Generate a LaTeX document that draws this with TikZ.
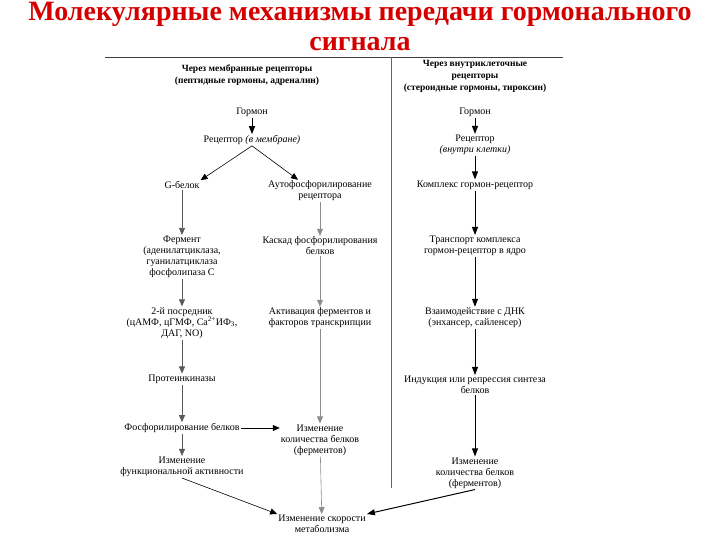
\documentclass[tikz,border=0pt]{standalone}
\usepackage{fontspec}
\setmainfont{Liberation Serif}
\usetikzlibrary{arrows.meta, positioning, calc}

\definecolor{titlered}{RGB}{212,0,0}

\begin{document}
\begin{tikzpicture}[
    x=1pt, y=-1pt,
    txt/.style={align=center, inner sep=1pt, font=\fontsize{10}{11}\selectfont},
    head/.style={align=center, inner sep=1pt, font=\fontsize{9.5}{12}\selectfont\bfseries},
    title/.style={anchor=base, inner sep=0pt, text=titlered, font=\fontsize{28}{30}\selectfont\bfseries},
    arrow/.style={-{Triangle[width=6pt, length=7pt]}, draw=black!65, line width=0.6pt},
    thickarrow/.style={-{Triangle[width=6pt, length=8pt]}, black, line width=1pt},
]
\useasboundingbox (0,0) rectangle (720,540);

% title
\node[title] (title1) at (360,21) {Молекулярные механизмы передачи гормонального};
\node[title] (title2) at (360,51) {сигнала};

% frame
\draw[black!75, line width=0.8pt] (105,57) -- (563,57);
\draw[black!60, line width=0.9pt] (391,57) -- (391,488);

% headers
\node[head] (memhead) at (247,75) {Через мембранные рецепторы\\(пептидные гормоны, адреналин)};
\node[head] (inhead)  at (475,76) {Через внутриклеточные\\рецепторы\\(стероидные гормоны, тироксин)};

% membrane receptors
\node[txt] (lhorm)  at (252,112) {Гормон};
\node[txt] (lrec)   at (252,140) {Рецептор \textit{(в мембране)}};
\node[txt] (gprot)  at (182,185) {G-белок};
\node[txt] (autoph) at (320,191) {Аутофосфорилирование\\рецептора};
\node[txt] (enzyme) at (182,257) {Фермент\\(аденилатциклаза,\\гуанилатциклаза\\фосфолипаза С};
\node[txt] (cascade) at (320,246) {Каскад фосфорилирования\\белков};
\node[txt] (second) at (182,323) {2-й посредник\\(цАМФ, цГМФ, Ca\textsuperscript{2+}ИФ\textsubscript{3},\\ДАГ, NO)};
\node[txt] (activ)  at (320,318) {Активация ферментов и\\факторов транскрипции};
\node[txt] (pkin)   at (182,379) {Протеинкиназы};
\node[txt] (phos)   at (182,428) {Фосфорилирование белков};
\node[txt] (amount1) at (320,440) {Изменение\\количества белков\\(ферментов)};
\node[txt] (funcact) at (182,467) {Изменение\\функциональной активности};
\node[txt] (metab)  at (322,524) {Изменение скорости\\метаболизма};

% intracellular receptors
\node[txt] (rhorm)  at (475,112) {Гормон};
\node[txt] (rrec)   at (475,145) {Рецептор\\\textit{(внутри клетки)}};
\node[txt] (complex) at (475,185) {Комплекс гормон-рецептор};
\node[txt] (transp) at (475,246) {Транспорт комплекса\\гормон-рецептор в ядро};
\node[txt] (dna)    at (475,318) {Взаимодействие с ДНК\\(энхансер, сайленсер)};
\node[txt] (induct) at (475,385) {Индукция или репрессия синтеза\\белков};
\node[txt] (amount2) at (475,473) {Изменение\\количества белков\\(ферментов)};

% left arrows
\draw[thickarrow] (lhorm) -- (lrec);
\draw[arrow, black] (lrec.south) -- (gprot.north east);
\draw[arrow, black] (lrec.south) -- ([xshift=-22pt]autoph.north);
\draw[arrow] (gprot) -- (enzyme);
\draw[arrow, draw=black!45] (autoph) -- (cascade);
\draw[arrow] (enzyme) -- (second);
\draw[arrow, draw=black!45] (cascade) -- (activ);
\draw[arrow] (second) -- (pkin);
\draw[arrow, draw=black!45] (activ) -- (amount1);
\draw[arrow] (pkin) -- (phos);
\draw[arrow, black] (phos) -- (amount1.west |- phos);
\draw[arrow] (phos) -- (funcact);
\draw[arrow, black] (funcact.south) -- (metab.north west);
\draw[arrow, draw=black!45] (amount1) -- (metab);

% right arrows
\draw[thickarrow] (rhorm) -- (rrec);
\draw[thickarrow] (rrec) -- (complex);
\draw[thickarrow] (complex) -- (transp);
\draw[thickarrow] (transp) -- (dna);
\draw[thickarrow] (dna) -- (induct);
\draw[thickarrow] (induct) -- (amount2);
\draw[thickarrow] (amount2.south) -- (metab.north east);

\end{tikzpicture}
\end{document}
